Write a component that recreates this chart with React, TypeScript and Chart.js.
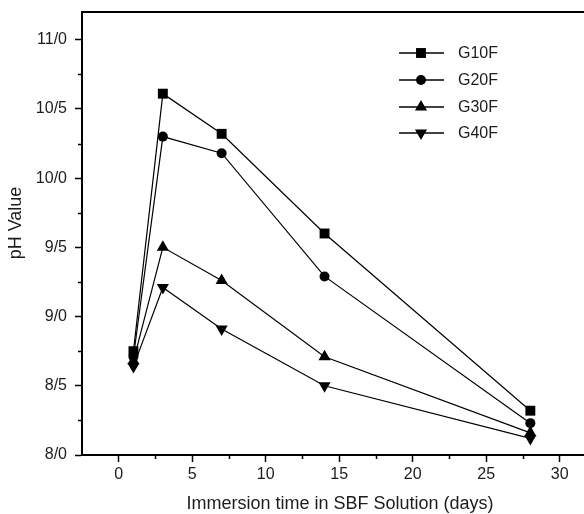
import React, { useEffect, useRef } from "react";
import { Chart, registerables } from "chart.js";

Chart.register(...registerables);

const days = [1, 3, 7, 14, 28];
const g10f = [8.75, 10.61, 10.32, 9.6, 8.32];
const g20f = [8.71, 10.3, 10.18, 9.29, 8.23];
const g30f = [8.68, 9.5, 9.26, 8.71, 8.16];
const g40f = [8.64, 9.21, 8.91, 8.5, 8.12];

const seriesNames = ["G10F", "G20F", "G30F", "G40F"];
const xTicks = [0, 5, 10, 15, 20, 25, 30];
const xMinor = [2.5, 7.5, 12.5, 17.5, 22.5, 27.5];
const yTicks = [8.0, 8.5, 9.0, 9.5, 10.0, 10.5, 11.0];
const yMinor = [8.25, 8.75, 9.25, 9.75, 10.25, 10.75];

const xTitle = "Immersion time in SBF Solution (days)";
const yTitle = "pH Value";

const FONT = "'Liberation Sans', Arial, sans-serif";
const TEXT = "#1c1c1c";

const styles = [
  { pointStyle: "rect", radius: 7, rotation: 0 },
  { pointStyle: "circle", radius: 5, rotation: 0 },
  { pointStyle: "triangle", radius: 7, rotation: 0 },
  { pointStyle: "triangle", radius: 7, rotation: 180 },
];

function drawMarker(ctx: CanvasRenderingContext2D, style: string, r: number, rot: number, x: number, y: number) {
  ctx.save();
  ctx.translate(x, y);
  ctx.rotate((rot * Math.PI) / 180);
  ctx.fillStyle = "#000";
  ctx.beginPath();
  if (style === "rect") {
    const s = r * Math.SQRT1_2;
    ctx.rect(-s, -s, 2 * s, 2 * s);
  } else if (style === "circle") {
    ctx.arc(0, 0, r, 0, Math.PI * 2);
  } else {
    ctx.moveTo(0, -r);
    ctx.lineTo(r * Math.sin(Math.PI / 3), r * 0.5);
    ctx.lineTo(-r * Math.sin(Math.PI / 3), r * 0.5);
    ctx.closePath();
  }
  ctx.fill();
  ctx.restore();
}

const decorPlugin = {
  id: "decor",
  afterDraw(chart: any) {
    const ctx = chart.ctx;
    const ca = chart.chartArea;
    const xs = chart.scales.x;
    const ys = chart.scales.y;
    ctx.save();
    ctx.strokeStyle = "#000";
    ctx.lineWidth = 2;
    ctx.beginPath();
    ctx.moveTo(ca.left - 1, ca.top);
    ctx.lineTo(chart.width, ca.top);
    ctx.stroke();
    ctx.lineWidth = 1.5;
    ctx.beginPath();
    xMinor.forEach((v) => {
      const px = Math.round(xs.getPixelForValue(v)) + 0.5;
      ctx.moveTo(px, ca.bottom);
      ctx.lineTo(px, ca.bottom + 4);
    });
    yMinor.forEach((v) => {
      const py = Math.round(ys.getPixelForValue(v)) + 0.5;
      ctx.moveTo(ca.left, py);
      ctx.lineTo(ca.left - 4, py);
    });
    ctx.stroke();
    ctx.fillStyle = TEXT;
    ctx.font = `18px ${FONT}`;
    ctx.textAlign = "center";
    ctx.textBaseline = "middle";
    ctx.fillText(xTitle, 340, 504);
    ctx.save();
    ctx.translate(16, 223);
    ctx.rotate(-Math.PI / 2);
    ctx.fillText(yTitle, 0, 0);
    ctx.restore();
    const rows = [53, 80, 107, 133];
    chart.data.datasets.forEach((ds: any, i: number) => {
      const y = rows[i];
      ctx.strokeStyle = "#000";
      ctx.lineWidth = 1.5;
      ctx.beginPath();
      ctx.moveTo(399, y);
      ctx.lineTo(444, y);
      ctx.stroke();
      const st = styles[i];
      drawMarker(ctx, st.pointStyle, st.radius, st.rotation, 421, y);
      ctx.fillStyle = TEXT;
      ctx.font = `16px ${FONT}`;
      ctx.textAlign = "left";
      ctx.textBaseline = "middle";
      ctx.fillText(ds.label, 458, y + 1);
    });
    ctx.restore();
  },
};

export default function App() {
  const ref = useRef<HTMLCanvasElement | null>(null);
  useEffect(() => {
    const canvas = ref.current!;
    const allSeries = [g10f, g20f, g30f, g40f];
    const chart = new Chart(canvas, {
      type: "line",
      data: {
        datasets: allSeries.map((vals, i) => ({
          label: seriesNames[i],
          data: days.map((d, j) => ({ x: d, y: vals[j] })),
          borderColor: "#000",
          borderWidth: 1.2,
          backgroundColor: "#000",
          pointBackgroundColor: "#000",
          pointBorderColor: "#000",
          pointBorderWidth: 0,
          pointStyle: styles[i].pointStyle as any,
          pointRadius: styles[i].radius,
          pointRotation: styles[i].rotation,
          tension: 0,
          fill: false,
        })),
      },
      options: {
        responsive: false,
        animation: false,
        layout: { padding: { top: 12, right: 0, left: 0, bottom: 0 } },
        plugins: { legend: { display: false }, tooltip: { enabled: false } },
        scales: {
          x: {
            type: "linear",
            min: -2.5,
            max: 31.65,
            afterFit: (s: any) => { s.height = 59; s.paddingLeft = 0; s.paddingRight = 0; },
            afterBuildTicks: (s: any) => { s.ticks = xTicks.map((v) => ({ value: v })); },
            border: { display: true, color: "#000", width: 2 },
            grid: { display: true, drawOnChartArea: false, drawTicks: true, tickLength: 7, tickWidth: 1.5, tickColor: "#000" },
            ticks: {
              color: TEXT,
              font: { family: FONT, size: 16 },
              padding: 3,
              maxRotation: 0,
              callback: (v: any) => String(v),
            },
          },
          y: {
            type: "linear",
            min: 8.0,
            max: 11.2,
            afterFit: (s: any) => { s.width = 82; s.paddingTop = 0; s.paddingBottom = 0; },
            afterBuildTicks: (s: any) => { s.ticks = yTicks.map((v) => ({ value: v })); },
            border: { display: true, color: "#000", width: 2 },
            grid: { display: true, drawOnChartArea: false, drawTicks: true, tickLength: 7, tickWidth: 1.5, tickColor: "#000" },
            ticks: {
              color: TEXT,
              font: { family: FONT, size: 16 },
              padding: 8,
              callback: (v: any) => Number(v).toFixed(1).replace(".", "/"),
            },
          },
        },
      },
      plugins: [decorPlugin],
    });
    return () => chart.destroy();
  }, []);
  return (
    <div style={{ position: "absolute", left: 0, top: 0, width: 584, height: 514, background: "#fff", overflow: "hidden" }}>
      <canvas ref={ref} width={591} height={514} style={{ display: "block" }} />
    </div>
  );
}
